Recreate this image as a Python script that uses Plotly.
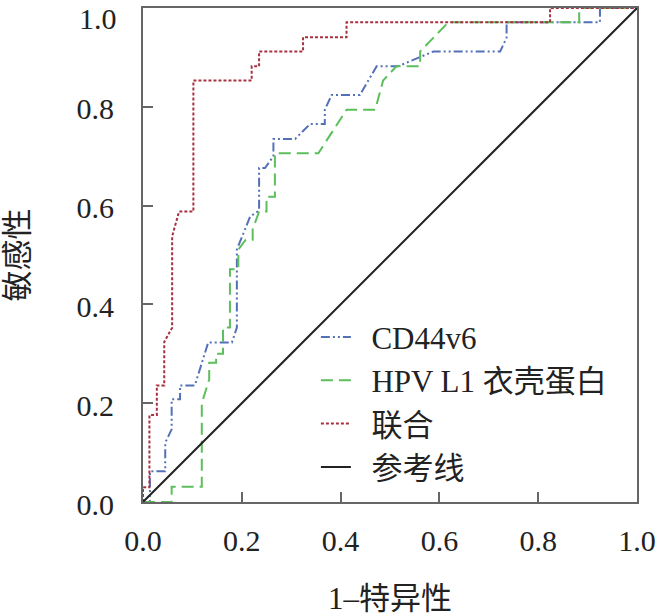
import plotly.graph_objects as go

# ROC curves (1-specificity, sensitivity)
cd44_x = [0.0, 0.014, 0.014, 0.045, 0.045, 0.058, 0.058, 0.075, 0.075, 0.105, 0.132, 0.180,
          0.190, 0.190, 0.217, 0.235, 0.235, 0.247, 0.264, 0.264, 0.308, 0.338, 0.368,
          0.368, 0.382, 0.439, 0.473, 0.516, 0.588, 0.723, 0.736, 0.736, 0.925, 0.925, 1.0]
cd44_y = [0.0, 0.0, 0.062, 0.062, 0.120, 0.147, 0.208, 0.208, 0.236, 0.236, 0.323, 0.323,
          0.353, 0.511, 0.578, 0.590, 0.676, 0.676, 0.700, 0.735, 0.735, 0.765, 0.765,
          0.794, 0.824, 0.824, 0.882, 0.882, 0.912, 0.912, 0.940, 0.971, 0.971, 1.0, 1.0]

hpv_x = [0.0, 0.058, 0.058, 0.119, 0.119, 0.134, 0.134, 0.148, 0.148, 0.162, 0.162, 0.176,
         0.176, 0.193, 0.193, 0.208, 0.222, 0.222, 0.235, 0.250, 0.250, 0.267, 0.267,
         0.355, 0.412, 0.470, 0.486, 0.513, 0.561, 0.561, 0.618, 0.883, 0.883, 1.0]
hpv_y = [0.0, 0.0, 0.031, 0.031, 0.200, 0.248, 0.282, 0.282, 0.300, 0.300, 0.353, 0.353,
         0.471, 0.471, 0.511, 0.531, 0.531, 0.552, 0.588, 0.588, 0.618, 0.618, 0.706,
         0.706, 0.794, 0.794, 0.853, 0.882, 0.882, 0.912, 0.971, 0.971, 1.0, 1.0]

comb_x = [0.0, 0.0, 0.013, 0.013, 0.028, 0.028, 0.043, 0.043, 0.059, 0.059, 0.073, 0.102,
          0.102, 0.220, 0.220, 0.235, 0.235, 0.324, 0.324, 0.412, 0.412, 0.824, 0.824, 1.0]
comb_y = [0.0, 0.030, 0.030, 0.176, 0.176, 0.236, 0.236, 0.324, 0.353, 0.538, 0.588, 0.588,
          0.853, 0.853, 0.882, 0.882, 0.912, 0.912, 0.941, 0.941, 0.971, 0.971, 1.0, 1.0]

ref_x = [0.0, 1.0]
ref_y = [0.0, 1.0]

ticks = [0.0, 0.2, 0.4, 0.6, 0.8, 1.0]
tick_text = ['0.0', '0.2', '0.4', '0.6', '0.8', '1.0']

font_main = 'Liberation Serif, Noto Sans CJK SC, serif'
frame_col = '#666666'
gap = '\u00a0\u00a0'

fig = go.Figure()
fig.add_trace(go.Scatter(x=cd44_x, y=cd44_y, mode='lines', name=gap + 'CD44v6',
                         line=dict(color='#5470b8', width=2, dash='9px,3px,2px,3px,2px,3px')))
fig.add_trace(go.Scatter(x=hpv_x, y=hpv_y, mode='lines', name=gap + 'HPV L1 衣壳蛋白',
                         line=dict(color='#5cbf5c', width=2, dash='12px,6px')))
fig.add_trace(go.Scatter(x=comb_x, y=comb_y, mode='lines', name=gap + '联合',
                         line=dict(color='#a83040', width=2, dash='3px,2px')))
fig.add_trace(go.Scatter(x=ref_x, y=ref_y, mode='lines', name=gap + '参考线',
                         line=dict(color='#222222', width=2)))

tick_font = dict(family=font_main, size=30, color='#222')
title_font = dict(family=font_main, size=31, color='#222')
axis_common = dict(range=[0, 1], tickvals=ticks,
                   showline=True, mirror=True, linecolor=frame_col, linewidth=2,
                   ticks='inside', ticklen=10, tickwidth=2, tickcolor=frame_col,
                   showgrid=False, zeroline=False, tickfont=tick_font)

fig.update_xaxes(**axis_common, ticktext=tick_text, ticklabelstandoff=11,
                 title=dict(text='1–特异性', standoff=31, font=title_font))
# top y label sits at the very edge of the page, plotly drops it, so it is placed by hand
fig.update_yaxes(**axis_common, ticktext=tick_text[:-1] + [''],
                 ticklabelstandoff=21, ticklabelshift=2,
                 title=dict(text='敏感性', standoff=46, font=title_font))
fig.add_annotation(text=tick_text[-1], x=0, xref='paper', y=ticks[-1], yref='y',
                   xanchor='right', yanchor='middle', xshift=-24, yshift=-10,
                   showarrow=False, font=tick_font)

fig.update_layout(
    width=659, height=616,
    margin=dict(l=143, r=22, t=8, b=114, autoexpand=False),
    paper_bgcolor='white', plot_bgcolor='white',
    showlegend=True,
    legend=dict(x=0.350, y=0.388, xanchor='left', yanchor='top',
                bgcolor='rgba(0,0,0,0)', borderwidth=0, itemwidth=30,
                font=dict(family=font_main, size=31, color='#222'),
                tracegroupgap=0),
)

# page body has a default 8px margin; drop it so the figure sits at the corner
fig.write_html('out.html', config={'displayModeBar': False},
               post_script="document.body.style.margin='0px';")
